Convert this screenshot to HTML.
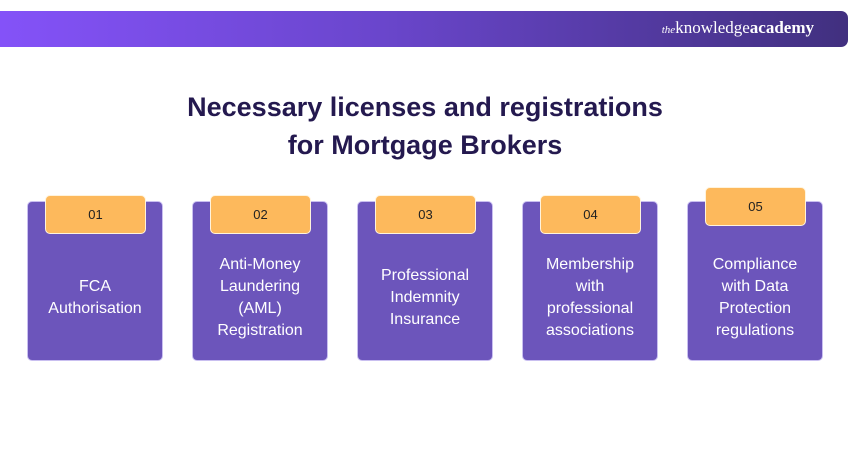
<!DOCTYPE html>
<html><head><style>
body{margin:0;width:850px;height:450px;background:#fff;position:relative;overflow:hidden;font-family:"Liberation Sans",sans-serif}
.banner{position:absolute;left:0;top:11px;width:848px;height:36px;border-radius:0 7px 7px 0;background:linear-gradient(90deg,#8452f8,#6a46cc 45%,#41307f)}
.logo{position:absolute;right:36px;top:18px;color:#fff;font-family:"Liberation Serif",serif;font-size:17px}
.title{position:absolute;left:0;width:850px;top:88px;text-align:center;font-size:27px;font-weight:bold;color:#24194f;line-height:38px}
.card{position:absolute;top:201px;width:136px;height:160px;background:#6c55bb;border:1px solid #c9bff0;border-radius:5px;box-sizing:border-box}
.badge{position:absolute;width:101px;height:39px;background:#fdb95c;border:1px solid #fff3dc;border-radius:5px;box-sizing:border-box;text-align:center;line-height:38px;font-size:13px;color:#222}
.txt{position:absolute;top:201px;width:136px;height:160px;display:flex;align-items:center;justify-content:center;text-align:center;color:#fff;font-size:16px;line-height:22px;padding-top:34px;box-sizing:border-box;font-weight:500}
</style></head><body>
<div class="banner"></div>
<div class="logo"><i style="font-size:11px">the</i>knowledge<b>academy</b></div>
<div class="title">Necessary licenses and registrations<br>for Mortgage Brokers</div>

<div class="card" style="left:27px"></div><div class="badge" style="left:45px;top:195px">01</div>
<div class="txt" style="left:27px">FCA<br>Authorisation</div>

<div class="card" style="left:192px"></div><div class="badge" style="left:210px;top:195px">02</div>
<div class="txt" style="left:192px">Anti-Money<br>Laundering<br>(AML)<br>Registration</div>

<div class="card" style="left:357px"></div><div class="badge" style="left:375px;top:195px">03</div>
<div class="txt" style="left:357px">Professional<br>Indemnity<br>Insurance</div>

<div class="card" style="left:522px"></div><div class="badge" style="left:540px;top:195px">04</div>
<div class="txt" style="left:522px">Membership<br>with<br>professional<br>associations</div>

<div class="card" style="left:687px"></div><div class="badge" style="left:705px;top:187px">05</div>
<div class="txt" style="left:687px">Compliance<br>with Data<br>Protection<br>regulations</div>
</body></html>
